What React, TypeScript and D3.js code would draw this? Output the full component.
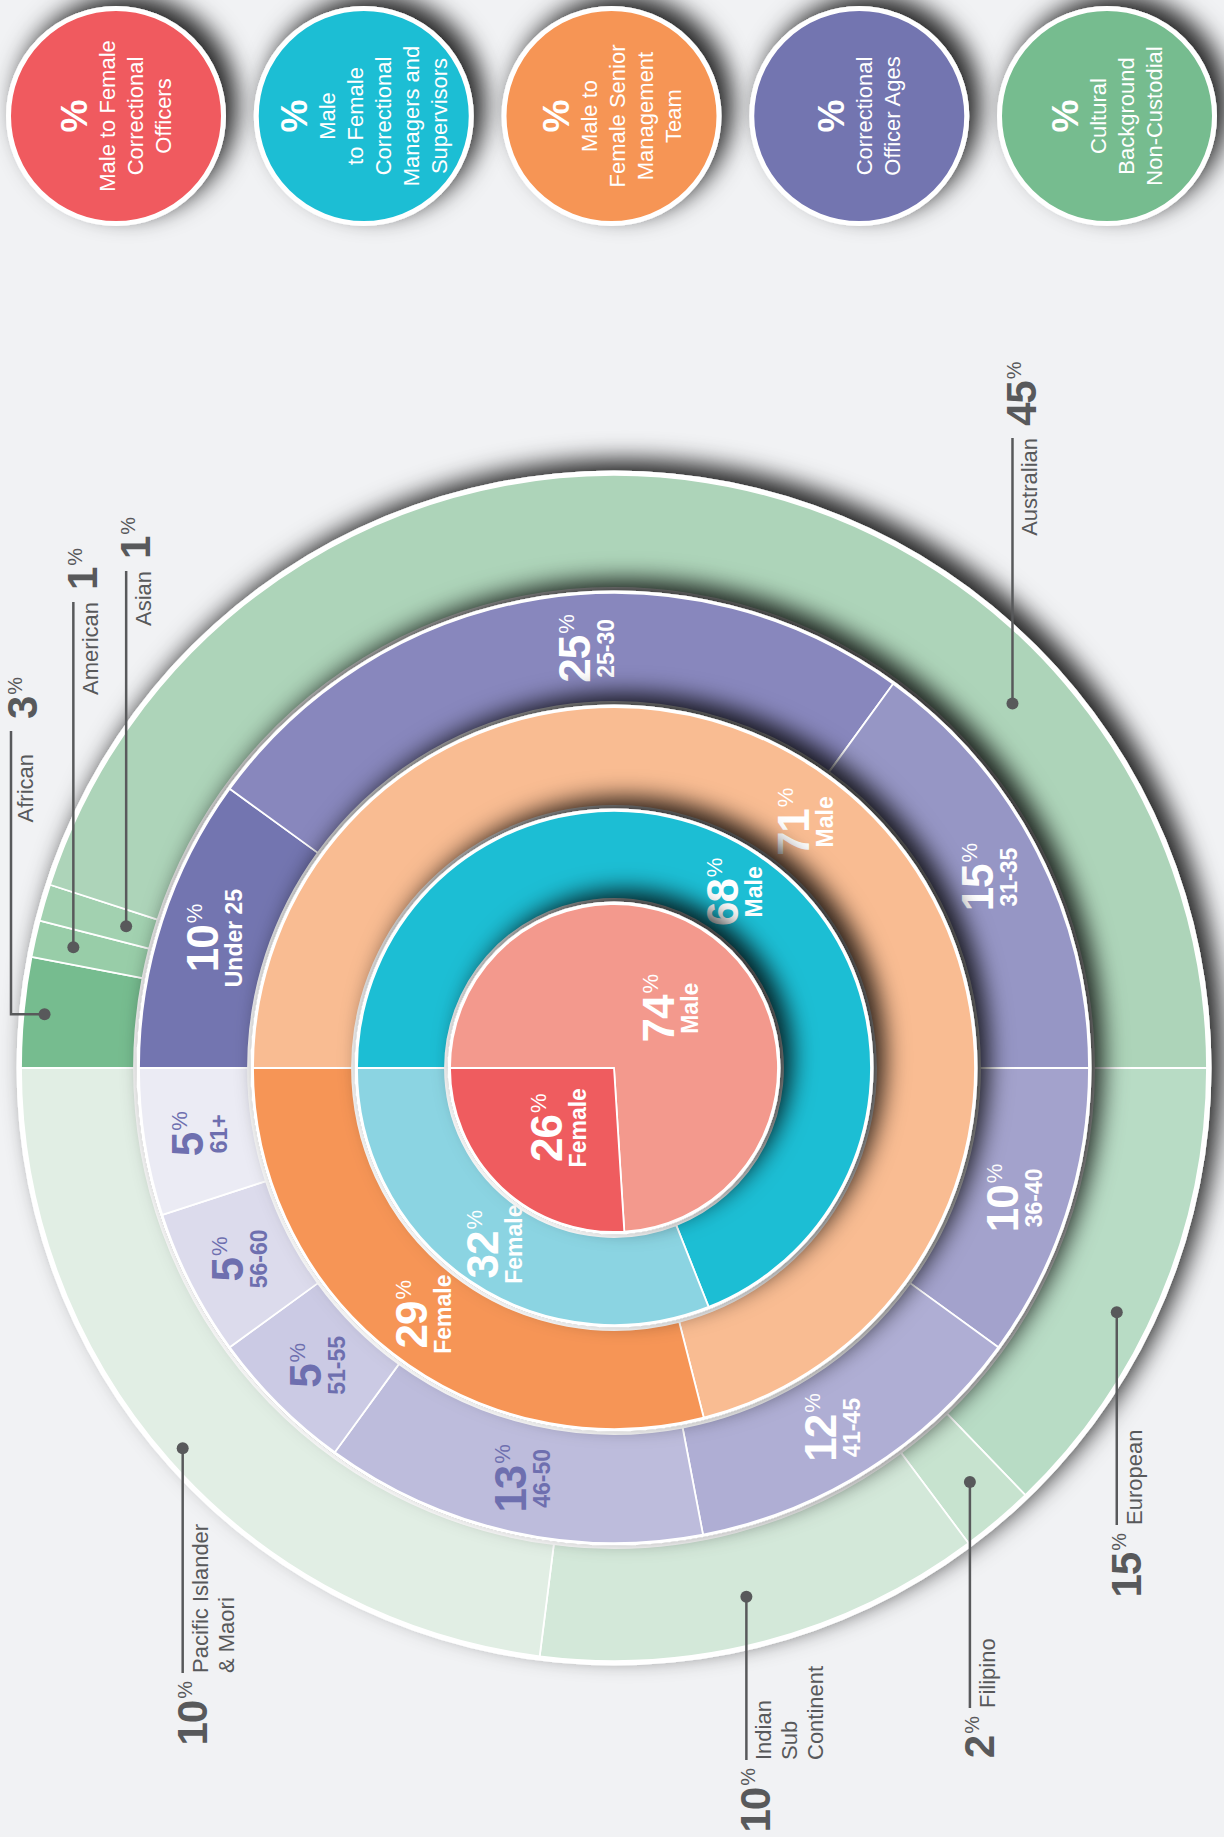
import React from "react";
import * as d3 from "d3";

// ---------- DATA ----------
const officerGroups = ["Male", "Female"];
const officerShares = [74, 26];
const officerLabels = ["74", "26"];

const managerGroups = ["Male", "Female"];
const managerShares = [69, 31]; // as drawn
const managerLabels = ["68", "32"];

const seniorGroups = ["Male", "Female"];
const seniorShares = [71, 29];
const seniorLabels = ["71", "29"];

const ageGroups = ["Under 25", "25-30", "31-35", "36-40", "41-45", "46-50", "51-55", "56-60", "61+"];
const ageShares = [10, 25, 15, 10, 12, 13, 5, 5, 5];
const ageLabels = ["10", "25", "15", "10", "12", "13", "5", "5", "5"];

const cultureGroups = ["African", "American", "Asian", "Australian", "European", "Filipino", "Indian Sub Continent", "Pacific Islander & Maori"];
const cultureShares = [3, 1, 1, 45, 12.8, 2, 12.2, 23]; // as drawn
const cultureLabels = ["3", "1", "1", "45", "15", "2", "10", "10"];
const cultureTextLines = [["African"], ["American"], ["Asian"], ["Australian"], ["European"], ["Filipino"], ["Indian", "Sub", "Continent"], ["Pacific Islander", "& Maori"]];

const legendTitles = [
  ["Male to Female", "Correctional", "Officers"],
  ["Male", "to Female", "Correctional", "Managers and", "Supervisors"],
  ["Male to", "Female Senior", "Management", "Team"],
  ["Correctional", "Officer Ages"],
  ["Cultural", "Background", "Non-Custodial"],
];

// ---------- STYLE / LAYOUT ----------
const W = 1224, H = 1837;
const CX = 614, CY = 1068;
const FONT = "'Liberation Sans', Arial, Helvetica, sans-serif";
const BG = "#F1F2F4";
const INK = "#58595B";

const legendColors = ["#F05A5E", "#1EBED4", "#F69555", "#7374B0", "#76BC8F"];
const officerColors = ["#F3998D", "#EF5B5F"];
const managerColors = ["#1EBED4", "#8BD4E2"];
const seniorColors = ["#F9BC92", "#F69556"];
const ageColors = ["#7374B0", "#8887BD", "#9696C5", "#A3A2CC", "#AFAED4", "#BDBCDC", "#CBCAE4", "#DCDBEC", "#EBEBF4"];
const ageTextColors = ["#fff", "#fff", "#fff", "#fff", "#fff", "#6E6FAF", "#6E6FAF", "#6E6FAF", "#6E6FAF"];
const cultureColors = ["#76BC8F", "#98CDA8", "#A2D1B0", "#ADD4B9", "#B8DCC5", "#C7E3CF", "#D3E8D9", "#E1EEE4"];
const ageLabelNudge = [0, 0.09, 0, 0, 0.02, 0, 0, 0, 0]; // radians, label placement tweak

// callout layout: position of the dot within its segment (t), its radius, the screen Y where the leader ends
const calloutLayout = [
  { t: 0.5, r: 572, end: 731, side: "top", elbowX: 11, textShift: 23 },
  { t: 0.5, r: 554, end: 602, side: "top" },
  { t: 0.5, r: 508, end: 571, side: "top" },
  { t: 0.738, r: 540, end: 438, side: "top" },
  { t: 0.5625, r: 559, end: 1525, side: "bottom" },
  { t: 0.45, r: 546, end: 1708, side: "bottom" },
  { t: 0.516, r: 545, end: 1760, side: "bottom" },
  { t: 0.5, r: 575, end: 1673, side: "bottom" },
];

type Ring = {
  key: string; r0: number; r1: number; shares: number[]; colors: string[];
  labels?: string[]; subs?: string[]; textColors?: string[]; outerWhite?: number; nudge?: number[];
};

const rings: Ring[] = [
  { key: "culture", r0: 480, r1: 593, shares: cultureShares, colors: cultureColors, outerWhite: 4.5 },
  { key: "age", r0: 366, r1: 475, shares: ageShares, colors: ageColors, labels: ageLabels, subs: ageGroups, textColors: ageTextColors, nudge: ageLabelNudge },
  { key: "senior", r0: 262, r1: 361, shares: seniorShares, colors: seniorColors, labels: seniorLabels, subs: seniorGroups },
  { key: "manager", r0: 169, r1: 257, shares: managerShares, colors: managerColors, labels: managerLabels, subs: managerGroups },
  { key: "officer", r0: 0, r1: 164, shares: officerShares, colors: officerColors, labels: officerLabels, subs: officerGroups },
];

const pieGen = d3.pie<number>().sort(null).value((d) => d).startAngle(-Math.PI / 2).endAngle(1.5 * Math.PI);

function polar(a: number, r: number): [number, number] {
  return [CX + r * Math.sin(a), CY - r * Math.cos(a)];
}

function RingLabel({ x, y, num, sub, color }: { x: number; y: number; num: string; sub: string; color: string }) {
  return (
    <g transform={`translate(${x},${y}) rotate(-90)`} fill={color} fontFamily={FONT}>
      <text textAnchor="middle" y={4}>
        <tspan fontSize={44} fontWeight="bold" letterSpacing={-1}>{num}</tspan>
        <tspan fontSize={22} dx={2} dy={-16}>%</tspan>
      </text>
      <text textAnchor="middle" y={28} fontSize={23} fontWeight="bold">{sub}</text>
    </g>
  );
}

export default function App() {
  const legendX = d3.scalePoint<number>().domain(legendTitles.map((_, i) => i)).range([116, 1107]);
  const cultureArcs = pieGen(cultureShares);

  return (
    <svg width={W} height={H} viewBox={`0 0 ${W} ${H}`} style={{ position: "absolute", left: 0, top: 0, display: "block" }} fontFamily={FONT}>
      <defs>
        <filter id="sh" x="-25%" y="-25%" width="150%" height="150%">
          <feDropShadow dx={11} dy={-11} stdDeviation={12} floodColor="#000" floodOpacity={0.85} />
        </filter>
      </defs>
      <rect width={W} height={H} fill={BG} />

      {/* legend circles */}
      {legendTitles.map((lines, i) => {
        const cx = legendX(i) as number;
        const cy = 116;
        const n = lines.length;
        const b0 = -14 * n + 13;
        return (
          <g key={"lg" + i}>
            <circle cx={cx} cy={cy} r={107.5} fill={legendColors[i]} stroke="#fff" strokeWidth={5} filter="url(#sh)" />
            <g transform={`translate(${cx},${cy}) rotate(-90)`} fill="#fff" textAnchor="middle">
              <text y={b0} fontSize={37} fontWeight="bold">%</text>
              {lines.map((l, k) => (
                <text key={k} y={b0 + 28 * (k + 1)} fontSize={22}>{l}</text>
              ))}
            </g>
          </g>
        );
      })}

      {/* rings, outer to inner */}
      {rings.map((ring) => {
        const arcs = pieGen(ring.shares);
        const seg = d3.arc<d3.PieArcDatum<number>>().innerRadius(ring.r0).outerRadius(ring.r1);
        const white = d3.arc()({
          innerRadius: Math.max(0, ring.r0 - 2.5),
          outerRadius: ring.r1 + (ring.outerWhite ?? 2.5),
          startAngle: 0,
          endAngle: 2 * Math.PI,
        }) as string;
        return (
          <g key={ring.key}>
            <g filter="url(#sh)" transform={`translate(${CX},${CY})`}>
              <path d={white} fill="#fff" />
              {arcs.map((a, i) => (
                <path key={i} d={seg(a) as string} fill={ring.colors[i]} stroke="#fff" strokeWidth={1.8} strokeLinejoin="round" />
              ))}
            </g>
            {ring.labels &&
              arcs.map((a, i) => {
                const nudge = ring.nudge ? ring.nudge[i] : 0;
                const [x, y] = seg.centroid({ ...a, startAngle: a.startAngle + nudge, endAngle: a.endAngle + nudge });
                return (
                  <RingLabel key={"l" + i} x={CX + x} y={CY + y} num={ring.labels![i]} sub={ring.subs![i]}
                    color={ring.textColors ? ring.textColors[i] : "#fff"} />
                );
              })}
          </g>
        );
      })}

      {/* culture callouts */}
      {cultureArcs.map((a, i) => {
        const lay = calloutLayout[i];
        const ang = a.startAngle + lay.t * (a.endAngle - a.startAngle);
        const [dx, dy] = polar(ang, lay.r);
        const lineX = lay.elbowX ?? dx;
        const path = lay.elbowX !== undefined ? `M${dx},${dy}H${lineX}V${lay.end}` : `M${dx},${dy}V${lay.end}`;
        const top = lay.side === "top";
        const textY = lay.end + (lay.textShift ?? 0);
        const textBase = lineX + (lay.elbowX !== undefined ? 22 : 25);
        const numBase = lineX + (lay.elbowX !== undefined ? 26 : 24);
        return (
          <g key={"c" + i} fill={INK}>
            <path d={path} fill="none" stroke={INK} strokeWidth={2.5} />
            <circle cx={dx} cy={dy} r={6} fill={INK} />
            {cultureTextLines[i].map((l, k) => (
              <text key={k} transform={`translate(${textBase + 26 * k},${textY}) rotate(-90)`} textAnchor={top ? "end" : "start"} fontSize={22}>{l}</text>
            ))}
            <text transform={`translate(${numBase},${top ? lay.end - 12 : lay.end + 8}) rotate(-90)`} textAnchor={top ? "start" : "end"}>
              <tspan fontSize={42} fontWeight="bold" letterSpacing={-1}>{cultureLabels[i]}</tspan>
              <tspan fontSize={20} dx={2} dy={-15}>%</tspan>
            </text>
          </g>
        );
      })}
    </svg>
  );
}
